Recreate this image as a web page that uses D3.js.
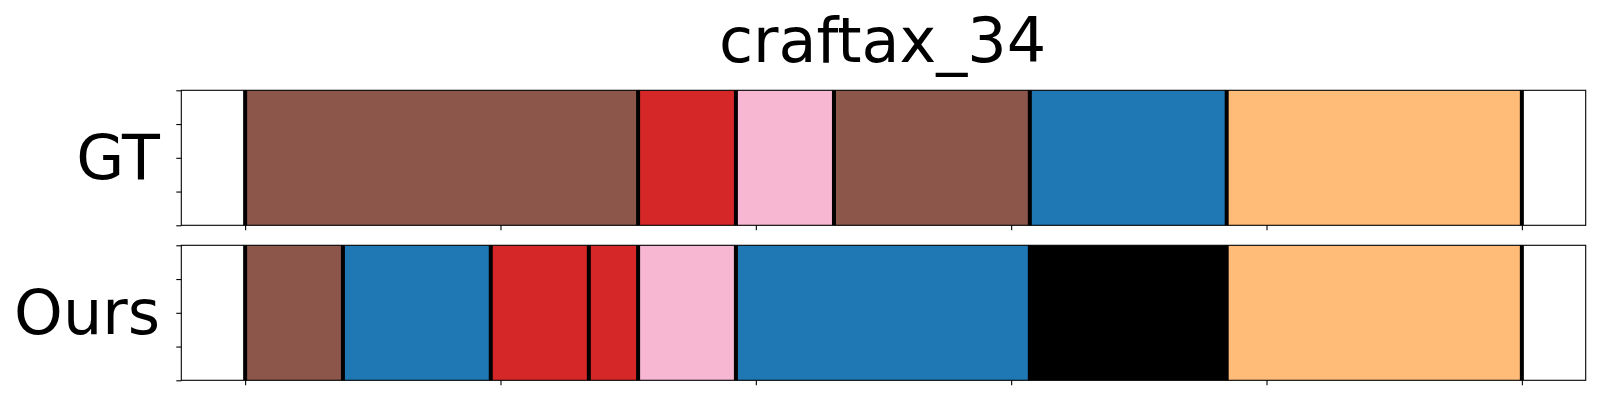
<!DOCTYPE html>
<html>
<head>
<meta charset="utf-8">
<script src="https://cdn.jsdelivr.net/npm/d3@7"></script>
<style>
  html, body { margin: 0; padding: 0; background: #fff; }
  svg { display: block; font-family: "DejaVu Sans", sans-serif; }
</style>
</head>
<body>
<svg id="chart" width="1600" height="400"></svg>
<script>
// ---- data ----
const title = "craftax_34";
const rowLabels = ["GT", "Ours"];
// segment boundaries (time steps) and class ids per segment
const gtStarts  = [0, 153.9, 192.2, 230.6, 307.3, 384.4];
const gtEnds    = [153.9, 192.2, 230.6, 307.3, 384.4, 500];
const gtClass   = [5, 3, 6, 5, 0, 1];
const oursStarts = [0, 38.3, 96.2, 134.6, 153.9, 192.2, 307.3, 384.4];
const oursEnds   = [38.3, 96.2, 134.6, 153.9, 192.2, 307.3, 384.4, 500];
const oursClass  = [5, 0, 3, 3, 6, 0, -1, 1];
const xTicks = [0, 100, 200, 300, 400, 500];
const yTicks = [0, 0.25, 0.5, 0.75, 1];

// ---- style ----
const classColor = {
  "-1": "#000000",
  "0": "#1f77b4",
  "1": "#ffbb78",
  "3": "#d62728",
  "5": "#8c564b",
  "6": "#f7b6d2"
};

const svg = d3.select("#chart");
const left = 181.3, right = 1585.7;
const panels = [
  { top: 90.3, bottom: 225.3, label: rowLabels[0], starts: gtStarts, ends: gtEnds, cls: gtClass },
  { top: 245.3, bottom: 380.3, label: rowLabels[1], starts: oursStarts, ends: oursEnds, cls: oursClass }
];

const x = d3.scaleLinear().domain([-25, 525]).range([left, right]);

svg.append("text")
  .attr("x", (left + right) / 2 - 1)
  .attr("y", 62)
  .attr("text-anchor", "middle")
  .attr("font-size", 62)
  .attr("fill", "#000")
  .text(title);

panels.forEach(p => {
  const y = d3.scaleLinear().domain([0, 1]).range([p.bottom, p.top]);
  const g = svg.append("g");
  const segs = p.starts.map((s, i) => ({ s, e: p.ends[i], c: p.cls[i] }));

  g.selectAll("rect.seg").data(segs).enter().append("rect")
    .attr("class", "seg")
    .attr("x", d => x(d.s))
    .attr("width", d => x(d.e) - x(d.s))
    .attr("y", y(1))
    .attr("height", y(0) - y(1))
    .attr("fill", d => classColor[d.c]);

  const bounds = Array.from(new Set(p.starts.concat(p.ends)));
  g.selectAll("line.bd").data(bounds).enter().append("line")
    .attr("class", "bd")
    .attr("x1", d => x(d)).attr("x2", d => x(d))
    .attr("y1", y(1)).attr("y2", y(0))
    .attr("stroke", "#000")
    .attr("stroke-width", 4);

  // frame
  g.append("rect")
    .attr("x", left).attr("y", p.top)
    .attr("width", right - left).attr("height", p.bottom - p.top)
    .attr("fill", "none").attr("stroke", "#000").attr("stroke-width", 1.1);

  // axes (ticks only, no labels)
  const xAxis = d3.axisBottom(x).tickValues(xTicks).tickSize(5).tickFormat("");
  const ax = g.append("g").attr("transform", `translate(0,${p.bottom})`).call(xAxis);
  ax.select(".domain").remove();
  ax.selectAll("line").attr("stroke-width", 1.1);

  const yAxis = d3.axisLeft(y).tickValues(yTicks).tickSize(5).tickFormat("");
  const ay = g.append("g").attr("transform", `translate(${left},0)`).call(yAxis);
  ay.select(".domain").remove();
  ay.selectAll("line").attr("stroke-width", 1.1);

  g.append("text")
    .attr("x", 160)
    .attr("y", (p.top + p.bottom) / 2 + 21)
    .attr("text-anchor", "end")
    .attr("font-size", 62)
    .attr("fill", "#000")
    .text(p.label);
});
</script>
</body>
</html>
